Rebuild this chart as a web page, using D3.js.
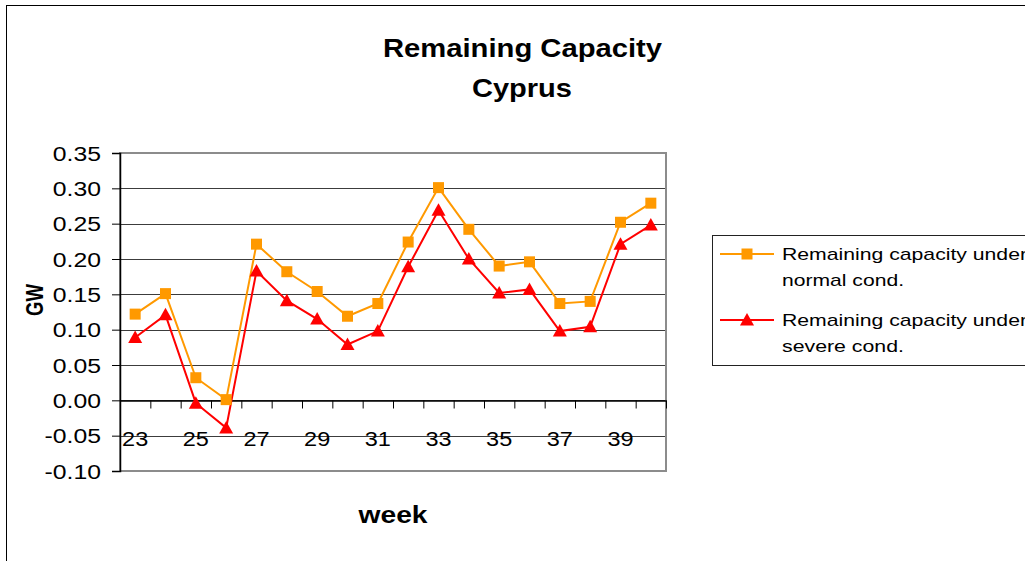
<!DOCTYPE html>
<html><head><meta charset="utf-8">
<script src="https://cdn.jsdelivr.net/npm/d3@7"></script>
<style>
html,body{margin:0;padding:0;background:#fff;overflow:hidden}
text{font-family:"Liberation Sans",Arial,sans-serif;fill:#000}
</style></head>
<body>
<svg id="c" width="1025" height="561"></svg>
<script>
const weeks = [23,24,25,26,27,28,29,30,31,32,33,34,35,36,37,38,39,40];
const normalCond = [0.122,0.151,0.032,0.001,0.221,0.182,0.154,0.119,0.137,0.224,0.301,0.242,0.190,0.196,0.137,0.140,0.252,0.279];
const severeCond = [0.089,0.121,-0.004,-0.039,0.183,0.141,0.115,0.079,0.098,0.189,0.269,0.200,0.152,0.157,0.098,0.104,0.221,0.248];
const yTicks = [-0.10,-0.05,0.00,0.05,0.10,0.15,0.20,0.25,0.30,0.35];
const xLabelWeeks = [23,25,27,29,31,33,35,37,39];
const seriesNames = ["Remaining capacity under normal cond.","Remaining capacity under severe cond."];
const titleLines = ["Remaining Capacity","Cyprus"];

const svg = d3.select("#c");
const L=120, R=666, T=153, B=471;
const x = d3.scaleBand().domain(weeks).range([L,R]);
const xi = d3.scaleLinear().domain([0,weeks.length]).range([L,R]);
const y = d3.scaleLinear().domain([-0.10,0.35]).range([B,T]);

// outer frame
svg.append("rect").attr("x",6.5).attr("y",5.5).attr("width",1100).attr("height",700)
  .attr("fill","#fff").attr("stroke","#000").attr("stroke-width",1);

// stretched text helper
function stext(g, str, px, py, opts){
  const t = g.append("text").attr("x",0).attr("y",0).text(str)
    .attr("font-size",opts.size).attr("font-weight",opts.bold?"bold":"normal")
    .attr("text-anchor",opts.anchor||"start");
  if(opts.len){ t.attr("textLength",opts.len).attr("lengthAdjust","spacingAndGlyphs"); }
  let tr = `translate(${px},${py})`;
  if(opts.rot) tr += ` rotate(${opts.rot})`;
  if(opts.sx) tr += ` scale(${opts.sx},1)`;
  t.attr("transform",tr);
  return t;
}

// title
stext(svg, titleLines[0], 522.5, 57, {size:25,bold:true,anchor:"middle",len:279});
stext(svg, titleLines[1], 522, 97, {size:25,bold:true,anchor:"middle",len:100});

// gridlines
svg.append("g").selectAll("line").data(yTicks.filter(v=>v>-0.1&&v<0.35)).join("line")
  .attr("x1",L).attr("x2",R).attr("y1",d=>Math.round(y(d))+0.5).attr("y2",d=>Math.round(y(d))+0.5)
  .attr("stroke","#3c3c3c").attr("stroke-width",1);

// plot border (gray)
svg.append("rect").attr("x",L).attr("y",T).attr("width",R-L).attr("height",B-T)
  .attr("fill","none").attr("stroke","#8c8c8c").attr("stroke-width",2);

// y axis
const ya = svg.append("g").attr("transform",`translate(${L},0)`)
  .call(d3.axisLeft(y).tickValues(yTicks).tickSize(8).tickFormat(""));
ya.select(".domain").attr("stroke","#000").attr("stroke-width",1.5);
ya.selectAll(".tick line").attr("stroke","#000");
yTicks.forEach(v=>{
  stext(svg, v.toFixed(2), 101, y(v)+7.5, {size:21,anchor:"end",sx:1.18});
});

// x axis at zero
const xa = svg.append("g").attr("transform",`translate(0,${Math.round(y(0))+0.5})`)
  .call(d3.axisBottom(xi).tickValues(d3.range(0,weeks.length+1)).tickSize(8).tickFormat("").tickSizeOuter(0));
xa.select(".domain").attr("stroke","#000").attr("stroke-width",1.5);
xa.selectAll(".tick line").attr("stroke","#000");
xLabelWeeks.forEach(w=>{
  stext(svg, String(w), x(w)+x.bandwidth()/2, 446, {size:21,anchor:"middle",sx:1.12});
});

// axis titles
stext(svg, "week", 393, 523, {size:23,bold:true,anchor:"middle",len:69});
stext(svg, "GW", 43, 300, {size:23,bold:true,anchor:"middle",rot:-90,len:32});

// series
const cx = w => x(w)+x.bandwidth()/2;
const line = d3.line().x((d,i)=>cx(weeks[i])).y(d=>y(d));
const colors = ["#FF9900","#FF0000"];
svg.append("path").attr("d",line(normalCond)).attr("fill","none").attr("stroke",colors[0]).attr("stroke-width",2);
svg.append("path").attr("d",line(severeCond)).attr("fill","none").attr("stroke",colors[1]).attr("stroke-width",2);
const sq = 11;
svg.append("g").selectAll("rect").data(normalCond).join("rect")
  .attr("x",(d,i)=>cx(weeks[i])-sq/2).attr("y",d=>y(d)-sq/2).attr("width",sq).attr("height",sq)
  .attr("fill",colors[0]);
const tri = (px,py)=>`M${px},${py-7}L${px+7},${py+5.5}L${px-7},${py+5.5}Z`;
svg.append("g").selectAll("path").data(severeCond).join("path")
  .attr("d",(d,i)=>tri(cx(weeks[i]),y(d))).attr("fill",colors[1]);

// legend
svg.append("rect").attr("x",712.5).attr("y",235.5).attr("width",400).attr("height",130)
  .attr("fill","#fff").attr("stroke","#222").attr("stroke-width",1);
const lg = [{yl:254, c:colors[0], m:"sq", l1:"Remaining capacity under", l2:"normal cond.", w2:122},
            {yl:320, c:colors[1], m:"tri", l1:"Remaining capacity under", l2:"severe cond.", w2:122}];
lg.forEach(o=>{
  svg.append("line").attr("x1",720).attr("x2",774).attr("y1",o.yl).attr("y2",o.yl).attr("stroke",o.c).attr("stroke-width",2);
  if(o.m==="sq") svg.append("rect").attr("x",747-sq/2).attr("y",o.yl-sq/2).attr("width",sq).attr("height",sq).attr("fill",o.c);
  else svg.append("path").attr("d",tri(747,o.yl)).attr("fill",o.c);
  stext(svg, o.l1, 782, o.yl+6, {size:17,len:245});
  stext(svg, o.l2, 782, o.yl+32, {size:17,len:o.w2});
});
</script>
</body></html>
